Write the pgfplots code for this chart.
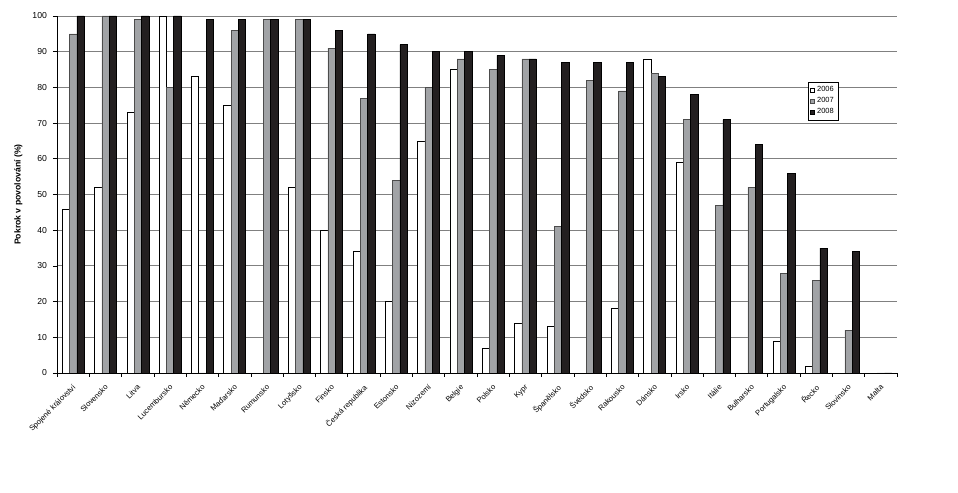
\documentclass[border=0pt]{standalone}
\usepackage{fontspec}
\setmainfont{Liberation Sans}
\usepackage{pgfplots}
\pgfplotsset{compat=1.18}

\definecolor{bargray}{RGB}{161,163,166}
\definecolor{barblack}{RGB}{35,31,32}
\definecolor{gridgray}{RGB}{128,128,128}

% pos 2006 2007 2008
\begin{document}
\begin{tikzpicture}
\useasboundingbox (0,0) rectangle (718.5pt,369.75pt);
\begin{axis}[
    at={(42.75pt,90pt)}, anchor=south west,
    scale only axis,
    width=630pt, height=267.75pt,
    ybar=0pt, bar width=5.5pt,
    xmin=-0.5, xmax=25.5,
    ymin=0, ymax=100,
    axis lines*=left,
    axis line style={black, line width=0.5pt},
    ymajorgrids,
    grid style={gridgray, line width=0.7pt},
    ytick={0,10,...,100},
    xtick={0,...,25},
    minor xtick={-0.5,0.5,...,25.5},
    major x tick style={draw=none},
    tick align=outside,
    major tick length=3pt, minor tick length=3pt,
    tick style={black, line width=0.5pt},
    /pgf/number format/assume math mode=true,
    y tick label style={font=\fontsize{6.5}{7}\selectfont, xshift=-1pt},
    x tick label style={font=\fontsize{5.7}{6}\selectfont, rotate=45, anchor=north east, inner sep=1pt, yshift=-2pt, xshift=-3pt},
    xticklabels={Spojené království,Slovensko,Litva,Lucembursko,Německo,Maďarsko,Rumunsko,Lotyšsko,Finsko,Česká republika,Estonsko,Nizozemí,Belgie,Polsko,Kypr,Španělsko,Švédsko,Rakousko,Dánsko,Irsko,Itálie,Bulharsko,Portugalsko,Řecko,Slovinsko,Malta},
    ylabel={Pokrok v povolování (\%)},
    every axis y label/.style={at={(axis description cs:-0.046,0.5)}, rotate=90, anchor=center, font=\bfseries\fontsize{6.5}{7}\selectfont},
    legend style={at={(axis description cs:0.894,0.815)}, anchor=north west,
        draw=black, line width=0.4pt, font=\fontsize{5.6}{6}\selectfont,
        inner sep=1.2pt, row sep=-1.2pt, cells={anchor=west}},
    legend image code/.code={\draw[#1, line width=0.3pt] (0pt,-1.6pt) rectangle (3.2pt,1.6pt);},
]
\addplot[draw=black, line width=0.4pt, fill=white] coordinates {
(0,46) (1,52) (2,73) (3,100) (4,83) (5,75) (6,0) (7,52) (8,40) (9,34)
(10,20) (11,65) (12,85) (13,7) (14,14) (15,13) (16,0) (17,18) (18,88) (19,59)
(20,0) (21,0) (22,9) (23,2) (24,0) (25,0)};
\addplot[draw=black!70, line width=0.4pt, fill=bargray] coordinates {
(0,95) (1,100) (2,99) (3,80) (4,0) (5,96) (6,99) (7,99) (8,91) (9,77)
(10,54) (11,80) (12,88) (13,85) (14,88) (15,41) (16,82) (17,79) (18,84) (19,71)
(20,47) (21,52) (22,28) (23,26) (24,12) (25,0)};
\addplot[draw=black, line width=0.4pt, fill=barblack] coordinates {
(0,100) (1,100) (2,100) (3,100) (4,99) (5,99) (6,99) (7,99) (8,96) (9,95)
(10,92) (11,90) (12,90) (13,89) (14,88) (15,87) (16,87) (17,87) (18,83) (19,78)
(20,71) (21,64) (22,56) (23,35) (24,34) (25,0)};
\legend{2006,2007,2008}
\end{axis}
\end{tikzpicture}
\end{document}
